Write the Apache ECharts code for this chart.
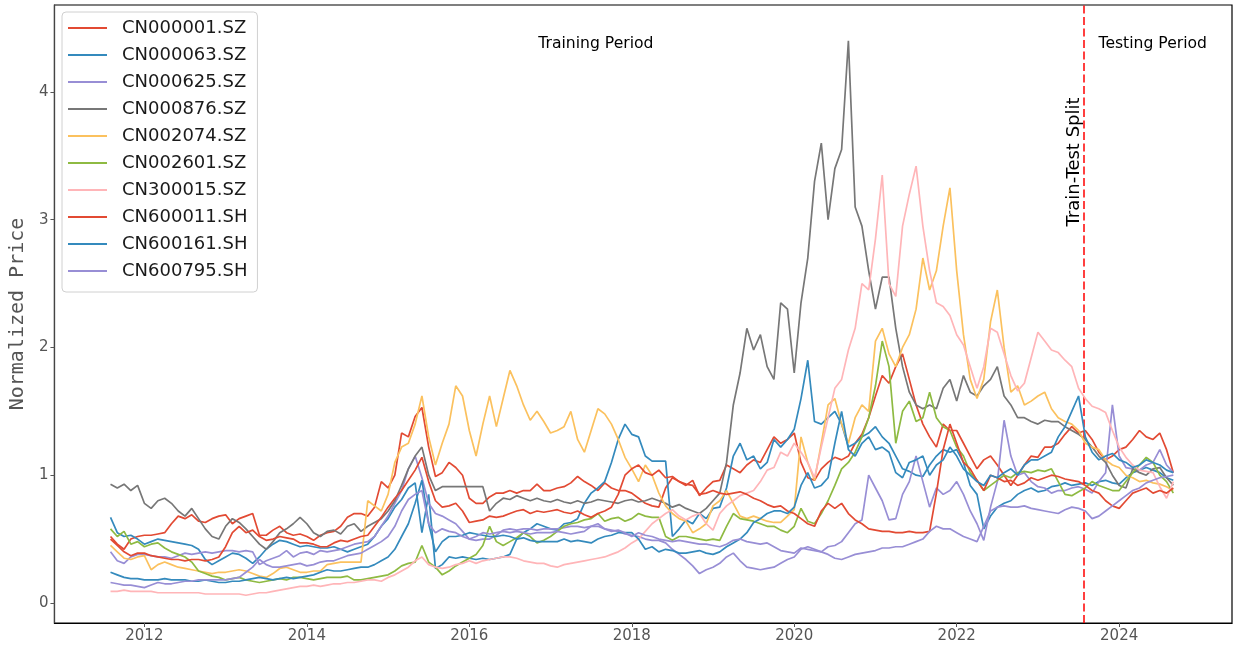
<!DOCTYPE html>
<html><head><meta charset="utf-8">
<script src="https://cdn.jsdelivr.net/npm/echarts@6/dist/echarts.min.js"></script>
<style>html,body{margin:0;padding:0;background:#fff}#c{width:1238px;height:650px}</style>
</head><body><div id="c"></div>
<script>
// Monthly samples, Aug 2011 .. Sep 2024 (158 points)
const startYear = 2011, startMonth = 8;
const splitDate = 2023.557;
const xTicks = [2012, 2014, 2016, 2018, 2020, 2022, 2024];
const yTicks = [0, 1, 2, 3, 4];
const names = ['CN000001.SZ','CN000063.SZ','CN000625.SZ','CN000876.SZ','CN002074.SZ','CN002601.SZ','CN300015.SZ','CN600011.SH','CN600161.SH','CN600795.SH'];
const colors = ['#E24A33','#348ABD','#988ED5','#777777','#FBC15E','#8EBA42','#FFB5B8','#E24A33','#348ABD','#988ED5'];

const cn000001 = [0.52,0.46,0.42,0.50,0.52,
0.53,0.53,0.54,0.55,0.62,0.68,0.66,0.69,0.64,0.63,0.66,0.68,
0.69,0.62,0.66,0.68,0.70,0.53,0.53,0.57,0.60,0.55,0.53,0.54,
0.52,0.49,0.53,0.55,0.56,0.60,0.67,0.70,0.70,0.68,0.75,0.95,
0.90,1.00,1.33,1.30,1.46,1.53,1.22,0.99,1.02,1.10,1.06,1.00,
0.82,0.78,0.78,0.83,0.86,0.86,0.88,0.86,0.88,0.88,0.93,0.88,
0.88,0.90,0.91,0.94,0.99,0.95,0.92,0.88,0.94,0.90,0.88,0.88,
0.86,0.82,0.78,0.76,0.75,0.90,0.98,0.95,0.92,0.96,0.84,0.90,
0.95,0.96,1.08,1.05,1.02,1.08,1.12,1.10,1.20,1.30,1.25,1.28,
1.33,1.10,0.98,0.96,1.05,1.10,1.14,1.12,1.15,1.25,1.32,1.45,
1.62,1.78,1.72,1.85,1.95,1.75,1.55,1.40,1.30,1.22,1.40,1.35,
1.35,1.25,1.15,1.05,1.12,1.15,1.08,1.00,0.92,1.00,1.08,1.15,
1.14,1.22,1.22,1.25,1.32,1.38,1.33,1.35,1.28,1.18,1.12,1.15,
1.20,1.22,1.28,1.35,1.30,1.28,1.33,1.20,1.02];

const cn000063 = [0.67,0.55,0.52,0.53,0.50,
0.46,0.48,0.50,0.49,0.48,0.47,0.46,0.45,0.42,0.34,0.30,0.33,
0.36,0.39,0.38,0.35,0.31,0.36,0.42,0.46,0.49,0.48,0.46,0.44,
0.45,0.44,0.43,0.43,0.44,0.42,0.40,0.42,0.44,0.46,0.52,0.60,
0.66,0.75,0.81,0.90,0.94,0.55,0.85,0.27,0.30,0.36,0.35,0.36,
0.35,0.34,0.35,0.34,0.35,0.36,0.38,0.50,0.55,0.58,0.62,0.60,
0.58,0.57,0.62,0.63,0.66,0.78,0.86,0.90,0.95,1.10,1.28,1.40,
1.32,1.30,1.15,1.11,1.11,1.11,0.52,0.58,0.65,0.62,0.70,0.66,
0.74,0.75,0.90,1.15,1.25,1.12,1.15,1.05,1.10,1.28,1.22,1.28,
1.36,1.60,1.90,1.42,1.40,1.45,1.50,1.40,1.22,1.25,1.30,1.33,
1.38,1.30,1.25,1.15,1.05,1.03,1.00,0.99,1.08,1.15,1.20,1.18,
1.20,1.10,0.92,0.85,0.58,0.68,0.75,0.78,0.80,0.85,0.88,0.90,
0.87,0.88,0.91,0.92,0.94,0.92,0.93,0.94,0.92,0.95,0.96,0.94,
0.93,0.98,1.02,1.04,1.06,1.04,1.02,0.98,0.96];

const cn000625 = [0.40,0.33,0.31,0.36,0.38,
0.38,0.37,0.36,0.36,0.35,0.37,0.39,0.38,0.39,0.40,0.39,0.40,
0.41,0.41,0.40,0.41,0.40,0.30,0.33,0.35,0.37,0.41,0.36,0.39,
0.40,0.38,0.41,0.40,0.41,0.42,0.44,0.46,0.47,0.48,0.52,0.60,
0.68,0.78,0.88,1.05,1.15,0.98,0.78,0.70,0.68,0.65,0.62,0.56,
0.50,0.49,0.50,0.50,0.53,0.57,0.58,0.57,0.58,0.58,0.57,0.58,
0.58,0.58,0.59,0.60,0.60,0.59,0.60,0.60,0.58,0.57,0.56,0.54,
0.53,0.52,0.50,0.49,0.49,0.47,0.42,0.38,0.34,0.29,0.23,0.26,
0.28,0.31,0.36,0.39,0.33,0.28,0.27,0.26,0.27,0.28,0.31,0.34,
0.36,0.42,0.44,0.42,0.40,0.44,0.45,0.48,0.55,0.62,0.65,1.00,
0.90,0.80,0.65,0.66,0.85,0.95,1.15,0.95,0.75,0.90,0.85,0.88,
0.95,0.85,0.72,0.62,0.49,0.75,0.95,1.43,1.15,1.00,1.02,0.95,
0.91,0.90,0.86,0.88,0.88,0.90,0.91,0.89,0.86,0.95,1.02,1.55,
1.15,1.06,1.05,1.04,1.08,1.10,1.20,1.08,1.02];

const cn000876 = [0.93,0.90,0.93,0.88,0.92,
0.78,0.74,0.80,0.82,0.78,0.72,0.68,0.74,0.66,0.58,0.52,0.50,
0.60,0.66,0.63,0.58,0.52,0.46,0.42,0.48,0.55,0.58,0.62,0.67,
0.62,0.55,0.52,0.56,0.57,0.54,0.60,0.62,0.56,0.60,0.63,0.66,
0.72,0.80,0.92,1.05,1.15,1.22,1.00,0.88,0.91,0.91,0.91,0.91,
0.91,0.91,0.91,0.72,0.78,0.82,0.81,0.84,0.82,0.80,0.82,0.80,
0.79,0.81,0.79,0.78,0.80,0.78,0.79,0.81,0.80,0.79,0.78,0.80,
0.81,0.79,0.80,0.82,0.80,0.78,0.75,0.77,0.74,0.72,0.70,0.74,
0.80,0.86,1.10,1.55,1.80,2.15,1.98,2.10,1.85,1.75,2.35,2.30,
1.80,2.35,2.70,3.30,3.60,3.00,3.40,3.55,4.40,3.10,2.95,2.60,
2.30,2.55,2.55,2.15,1.85,1.65,1.55,1.52,1.55,1.52,1.68,1.75,
1.58,1.78,1.65,1.62,1.70,1.75,1.85,1.62,1.55,1.45,1.45,1.42,
1.40,1.43,1.42,1.42,1.38,1.35,1.32,1.28,1.22,1.15,1.10,1.00,
0.92,0.90,1.05,1.02,1.00,1.05,1.06,0.98,0.92];

const cn002074 = [0.45,0.40,0.35,0.34,0.36,
0.37,0.26,0.30,0.32,0.30,0.28,0.27,0.26,0.25,0.24,0.23,0.24,
0.24,0.25,0.26,0.25,0.23,0.21,0.20,0.23,0.27,0.28,0.26,0.24,
0.24,0.25,0.25,0.30,0.31,0.32,0.32,0.32,0.32,0.80,0.76,0.72,
0.85,1.10,1.22,1.25,1.40,1.62,1.30,1.08,1.25,1.40,1.70,1.62,
1.35,1.15,1.40,1.62,1.38,1.60,1.82,1.70,1.55,1.43,1.50,1.42,
1.33,1.35,1.38,1.50,1.28,1.18,1.35,1.52,1.48,1.40,1.28,1.14,
1.05,0.95,1.08,1.00,0.86,0.76,0.70,0.66,0.64,0.55,0.58,0.62,
0.76,0.80,0.88,0.78,0.68,0.66,0.68,0.66,0.64,0.63,0.63,0.68,
0.73,1.30,1.10,0.96,1.25,1.55,1.60,1.40,1.25,1.45,1.55,1.50,
2.05,2.15,1.95,1.85,2.00,2.10,2.30,2.70,2.45,2.60,2.95,3.25,
2.60,2.10,1.75,1.60,1.75,2.20,2.45,2.00,1.65,1.70,1.55,1.58,
1.62,1.65,1.52,1.45,1.42,1.40,1.35,1.25,1.22,1.20,1.12,1.08,
1.06,1.00,0.98,0.95,0.96,0.94,0.93,0.91,0.88];

const cn002601 = [0.58,0.52,0.56,0.46,0.48,
0.44,0.46,0.47,0.43,0.40,0.38,0.36,0.32,0.25,0.23,0.21,0.20,
0.18,0.19,0.20,0.18,0.17,0.16,0.17,0.18,0.19,0.18,0.20,0.20,
0.19,0.18,0.19,0.20,0.20,0.20,0.21,0.18,0.18,0.19,0.20,0.21,
0.22,0.25,0.29,0.31,0.32,0.45,0.32,0.28,0.22,0.25,0.29,0.32,
0.35,0.38,0.45,0.60,0.48,0.45,0.48,0.51,0.55,0.52,0.47,0.49,
0.52,0.56,0.60,0.62,0.63,0.65,0.66,0.70,0.64,0.66,0.67,0.64,
0.66,0.70,0.68,0.67,0.67,0.52,0.49,0.52,0.52,0.51,0.50,0.49,
0.50,0.49,0.60,0.70,0.66,0.65,0.64,0.62,0.60,0.60,0.57,0.55,
0.60,0.74,0.64,0.62,0.70,0.80,0.92,1.05,1.10,1.18,1.30,1.45,
1.70,2.05,1.85,1.25,1.50,1.58,1.42,1.45,1.65,1.45,1.38,1.35,
1.22,1.15,1.02,0.96,0.88,0.92,0.96,1.00,0.98,1.02,1.03,1.02,
1.04,1.03,1.05,0.95,0.85,0.84,0.87,0.90,0.95,0.92,0.90,0.88,
0.88,0.95,1.02,1.08,1.14,1.10,1.00,0.95,0.86];

const cn300015 = [0.09,0.09,0.10,0.09,0.09,
0.09,0.09,0.08,0.08,0.08,0.08,0.08,0.08,0.08,0.07,0.07,0.07,
0.07,0.07,0.07,0.06,0.07,0.08,0.08,0.09,0.10,0.11,0.12,0.13,
0.13,0.14,0.13,0.14,0.15,0.15,0.16,0.16,0.17,0.18,0.18,0.17,
0.20,0.22,0.25,0.28,0.33,0.36,0.30,0.28,0.27,0.28,0.30,0.31,
0.33,0.31,0.33,0.34,0.35,0.36,0.36,0.35,0.33,0.32,0.31,0.31,
0.29,0.28,0.30,0.31,0.32,0.33,0.34,0.35,0.36,0.38,0.40,0.43,
0.47,0.50,0.56,0.62,0.66,0.70,0.73,0.68,0.65,0.68,0.70,0.62,
0.57,0.70,0.76,0.80,0.84,0.86,0.88,0.95,1.04,1.06,1.18,1.15,
1.25,1.18,1.10,0.98,1.22,1.45,1.68,1.75,1.98,2.15,2.50,2.45,
2.85,3.35,2.50,2.40,2.95,3.20,3.42,2.95,2.60,2.35,2.32,2.25,
2.10,2.02,1.85,1.68,1.85,2.15,2.12,1.95,1.78,1.66,1.72,1.92,
2.12,2.05,1.98,1.96,1.90,1.85,1.68,1.60,1.54,1.52,1.49,1.35,
1.22,1.14,1.08,1.04,1.03,1.02,0.91,0.82,0.95];

const cn600011 = [0.50,0.45,0.40,0.37,0.39,
0.39,0.37,0.36,0.35,0.34,0.34,0.33,0.34,0.34,0.33,0.34,0.36,
0.44,0.55,0.60,0.55,0.57,0.52,0.49,0.50,0.52,0.51,0.50,0.47,
0.47,0.46,0.44,0.44,0.47,0.49,0.48,0.50,0.52,0.53,0.60,0.67,
0.75,0.82,0.88,0.96,1.04,1.14,0.95,0.80,0.75,0.76,0.78,0.72,
0.63,0.64,0.65,0.68,0.67,0.68,0.70,0.72,0.73,0.70,0.72,0.71,
0.72,0.73,0.71,0.70,0.72,0.69,0.67,0.70,0.72,0.75,0.85,1.00,
1.05,1.08,1.02,1.00,1.04,0.98,0.99,0.95,0.93,0.92,0.85,0.86,
0.88,0.86,0.85,0.86,0.87,0.85,0.82,0.80,0.77,0.75,0.76,0.72,
0.70,0.66,0.62,0.60,0.72,0.78,0.74,0.78,0.70,0.65,0.62,0.58,
0.57,0.56,0.56,0.55,0.55,0.56,0.55,0.55,0.56,0.86,1.20,1.40,
1.25,1.10,1.05,0.96,0.88,1.00,0.98,0.95,0.96,0.92,0.94,0.98,
0.96,0.98,1.00,0.99,0.97,0.96,0.95,0.92,0.88,0.86,0.80,0.76,
0.74,0.80,0.86,0.88,0.90,0.86,0.88,0.86,0.90];

const cn600161 = [0.24,0.22,0.20,0.19,0.19,
0.18,0.18,0.18,0.19,0.18,0.18,0.18,0.17,0.17,0.18,0.17,0.16,
0.16,0.17,0.17,0.18,0.19,0.20,0.19,0.18,0.19,0.20,0.19,0.20,
0.21,0.22,0.24,0.26,0.25,0.25,0.26,0.27,0.28,0.28,0.30,0.33,
0.36,0.42,0.52,0.62,0.78,0.96,0.62,0.40,0.48,0.52,0.52,0.53,
0.55,0.54,0.53,0.52,0.52,0.53,0.52,0.50,0.51,0.49,0.48,0.48,
0.48,0.48,0.50,0.48,0.49,0.48,0.47,0.50,0.52,0.53,0.55,0.55,
0.55,0.50,0.42,0.44,0.40,0.42,0.41,0.39,0.39,0.40,0.41,0.39,
0.38,0.40,0.44,0.47,0.50,0.55,0.63,0.66,0.70,0.72,0.72,0.70,
0.75,0.92,1.02,0.90,0.92,0.98,1.25,1.50,1.20,1.15,1.25,1.30,
1.20,1.22,1.18,1.02,0.98,1.10,1.12,1.15,1.00,1.08,1.12,1.22,
1.15,1.05,1.00,0.95,0.92,1.00,0.98,1.02,1.05,1.00,1.08,1.12,
1.12,1.15,1.18,1.30,1.38,1.50,1.62,1.30,1.18,1.12,1.15,1.17,
1.12,1.10,1.06,1.08,1.12,1.10,1.08,1.04,1.02];

const cn600795 = [0.16,0.15,0.14,0.14,0.13,
0.12,0.14,0.16,0.15,0.15,0.16,0.17,0.17,0.18,0.18,0.18,0.18,
0.18,0.19,0.20,0.24,0.28,0.34,0.30,0.28,0.28,0.29,0.30,0.31,
0.29,0.30,0.32,0.33,0.33,0.35,0.37,0.38,0.39,0.42,0.45,0.48,
0.52,0.60,0.72,0.81,0.85,0.88,0.62,0.55,0.58,0.56,0.55,0.52,
0.50,0.52,0.55,0.54,0.55,0.56,0.55,0.56,0.55,0.54,0.55,0.55,
0.55,0.56,0.55,0.54,0.55,0.56,0.60,0.62,0.58,0.56,0.57,0.55,
0.52,0.55,0.53,0.52,0.50,0.49,0.48,0.49,0.48,0.47,0.46,0.46,
0.45,0.44,0.46,0.49,0.50,0.48,0.47,0.46,0.47,0.44,0.41,0.40,
0.39,0.43,0.42,0.41,0.40,0.38,0.35,0.34,0.36,0.38,0.39,0.40,
0.41,0.43,0.43,0.44,0.44,0.46,0.48,0.50,0.56,0.60,0.58,0.58,
0.55,0.52,0.50,0.48,0.60,0.72,0.75,0.76,0.75,0.75,0.76,0.74,
0.73,0.72,0.71,0.70,0.73,0.75,0.74,0.72,0.66,0.68,0.72,0.76,
0.80,0.84,0.88,0.90,0.94,0.96,0.98,0.99,1.00];

const seriesValues = [cn000001, cn000063, cn000625, cn000876, cn002074, cn002601, cn300015, cn600011, cn600161, cn600795];

// month grid -> decimal year
function monthToYear(i){ return startYear + (startMonth - 1 + i) / 12; }

const xMin = 2010.893, xMax = 2025.389, yMin = -0.157, yMax = 4.681;

const chart = echarts.init(document.getElementById('c'), null, {renderer:'canvas'});

const series = seriesValues.map((vals, k) => {
  const s = {
    name: names[k], type: 'line', showSymbol: false, symbol: 'none',
    data: vals.map((v, i) => [monthToYear(i), v]),
    lineStyle: {width: 1.7, color: colors[k]},
    itemStyle: {color: colors[k]},
    emphasis: {disabled: true}, silent: true, z: 2 + k
  };
  if (k === seriesValues.length - 1) {
    s.markLine = {
      silent: true, symbol: ['none','none'], label: {show: false},
      lineStyle: {color: '#ff0000', type: [8, 3.5], width: 1.5},
      data: [{xAxis: splitDate}], animation: false
    };
  }
  return s;
});

chart.setOption({
  animation: false,
  backgroundColor: '#ffffff',
  textStyle: {fontFamily: 'DejaVu Sans'},
  grid: {left: 53, right: 6, top: 5, bottom: 27, show: true, borderColor: '#000', borderWidth: 1.2, backgroundColor: 'transparent'},
  xAxis: {
    type: 'value', min: xMin, max: xMax,
    axisLine: {show: true, onZero: false, lineStyle: {color: '#000', width: 1.2}},
    axisTick: {show: true, length: 4, lineStyle: {color: '#555'}, customValues: xTicks},
    axisLabel: {color: '#555', fontSize: 15, margin: 6, customValues: xTicks, formatter: v => String(Math.round(v))},
    splitLine: {show: false}
  },
  yAxis: {
    type: 'value', min: yMin, max: yMax,
    name: 'Normalized Price', nameLocation: 'middle', nameGap: 23, nameRotate: 90,
    nameTextStyle: {fontFamily: 'DejaVu Sans Mono', fontSize: 20, color: '#555'},
    axisLine: {show: true, onZero: false, lineStyle: {color: '#444', width: 1.2}},
    axisTick: {show: true, length: 4, lineStyle: {color: '#555'}, customValues: yTicks},
    axisLabel: {color: '#555', fontSize: 15, margin: 6, customValues: yTicks, formatter: v => String(Math.round(v))},
    splitLine: {show: false}
  },
  legend: {
    orient: 'vertical', left: 62, top: 12, icon: 'rect', itemWidth: 39, itemHeight: 2, itemGap: 9,
    padding: [7, 10, 12, 6], backgroundColor: 'rgba(255,255,255,0.8)', borderColor: '#d0d0d0', borderWidth: 1, borderRadius: 4,
    textStyle: {fontSize: 18, color: '#1a1a1a', lineHeight: 18, padding: [0, 0, 0, 10], fontFamily: 'DejaVu Sans'},
    data: names, selectedMode: false
  },
  series: series
});

const pTrain = chart.convertToPixel({gridIndex: 0}, [2017.558, 4.376]);
const pTest = chart.convertToPixel({gridIndex: 0}, [2024.413, 4.376]);
const pSplit = chart.convertToPixel({gridIndex: 0}, [2023.447, 3.452]);
chart.setOption({
  graphic: [
    {type: 'text', x: pTrain[0], y: pTrain[1], silent: true, style: {text: 'Training Period', fontSize: 15.6, fontFamily: 'DejaVu Sans', fill: '#000', align: 'center', verticalAlign: 'middle'}},
    {type: 'text', x: pTest[0], y: pTest[1], silent: true, style: {text: 'Testing Period', fontSize: 15.6, fontFamily: 'DejaVu Sans', fill: '#000', align: 'center', verticalAlign: 'middle'}},
    {type: 'text', x: pSplit[0], y: pSplit[1], rotation: Math.PI / 2, silent: true, style: {text: 'Train-Test Split', fontSize: 18, fontFamily: 'DejaVu Sans', fill: '#000', align: 'center', verticalAlign: 'middle'}}
  ]
});
</script></body></html>
